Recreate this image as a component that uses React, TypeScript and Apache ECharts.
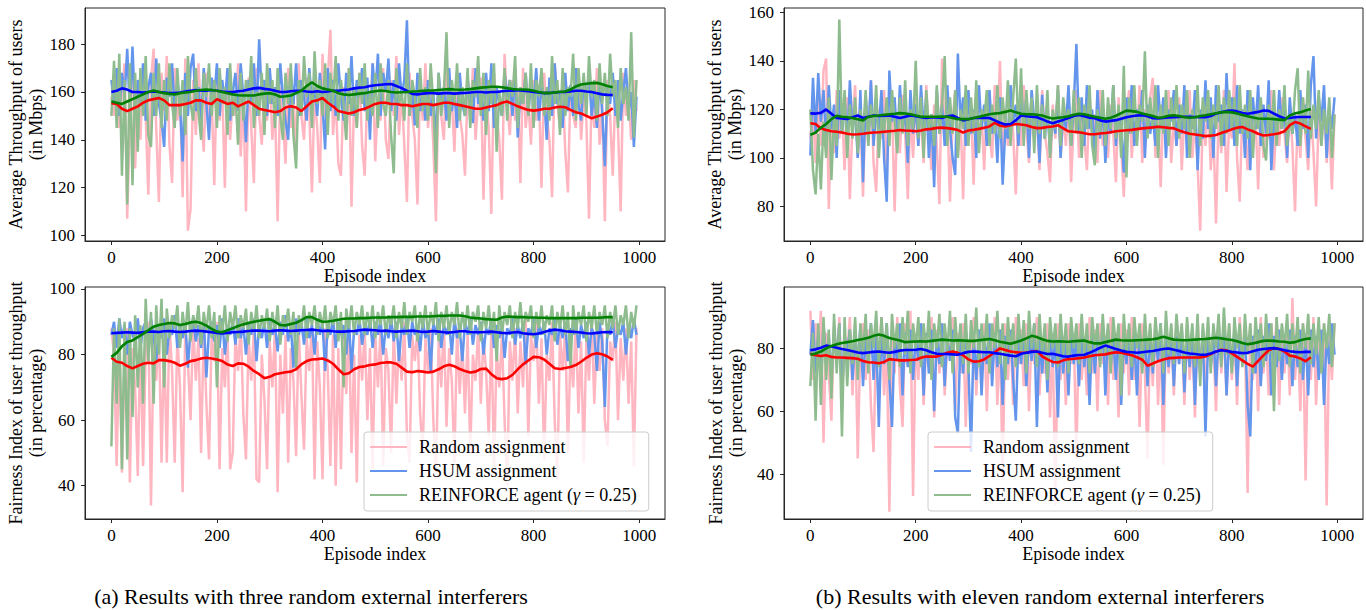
import React, { useEffect, useRef } from 'react';
import * as echarts from 'echarts';

// ---------------- data ----------------
const RAW_STEP = 5; // raw curves sampled every 5 episodes (0..995)
const MA_STEP = 10; // moving averages every 10 episodes (0..950)

const xTicks = [0, 200, 400, 600, 800, 1000];
const yTicksATop = [100, 120, 140, 160, 180];
const yTicksABottom = [40, 60, 80, 100];
const yTicksBTop = [80, 100, 120, 140, 160];
const yTicksBBottom = [40, 60, 80];

const seriesNames = ['Random assignment', 'HSUM assignment', 'REINFORCE agent (γ = 0.25)'];
const maNames = ['Random (moving average)', 'HSUM (moving average)', 'REINFORCE (moving average)'];
const captions = [
  '(a) Results with three random external interferers',
  '(b) Results with eleven random external interferers',
];
const throughputName = 'Average Throughput of users\n(in Mbps)';
const fairnessName = 'Fairness Index of user throughput\n(in percentage)';
const xName = 'Episode index';

// (a) top: throughput, three interferers
const aTopRandom = [
  158,150,166,145,160,172,107,148,176,128,162,140,170,150,117,165,178,145,114,168,
  152,175,138,122,170,148,160,116,174,102,111,165,142,172,150,135,168,145,158,121,
  170,148,162,120,168,140,158,150,172,133,160,110,166,145,122,170,150,138,164,148,
  168,140,155,106,162,148,130,170,145,158,136,172,150,140,166,152,118,160,145,122,
  176,150,165,186,142,158,130,125,162,140,170,112,158,145,168,138,125,160,150,172,
  131,158,148,170,140,132,165,150,175,142,160,138,114,168,150,140,113,165,148,172,
  145,160,138,106,165,150,140,172,148,158,135,168,150,142,125,162,148,170,140,156,
  166,115,158,145,109,168,150,140,115,176,155,142,165,148,160,122,170,145,156,138,
  165,148,160,120,168,150,140,116,172,155,145,165,135,118,162,150,145,170,140,158,
  148,107,160,145,170,138,155,106,165,150,125,160,145,110,168,150,158,140,165,152,
];
const aTopHsum = [
  165,155,170,150,168,158,178,152,179,150,165,155,172,148,162,168,150,174,155,148,
  137,166,158,172,150,165,155,131,168,150,170,176,152,162,148,170,155,140,166,158,
  172,150,165,155,170,148,160,168,152,172,158,139,165,155,172,150,182,158,165,150,
  170,155,162,150,172,158,148,140,168,155,172,150,165,158,148,170,155,162,150,168,
  155,136,170,152,165,150,172,158,148,168,155,175,150,165,158,170,152,166,140,172,
  158,176,150,168,160,174,152,165,148,172,158,165,190,150,162,146,168,152,160,148,
  165,150,160,138,168,155,162,148,170,152,160,145,168,155,150,165,158,147,170,155,
  160,148,168,152,172,145,162,155,150,168,158,165,150,170,141,160,155,168,150,165,
  155,170,148,162,158,140,166,150,172,155,160,145,168,152,163,150,170,155,148,165,
  158,168,150,160,145,165,152,129,162,155,168,150,165,148,160,170,152,160,137,158,
];
const aTopReinforce = [
  150,173,145,176,125,165,113,172,121,168,135,170,150,175,142,137,168,150,172,145,
  165,148,172,155,145,170,150,165,142,175,155,148,170,152,140,168,158,172,150,165,
  145,170,155,162,142,172,150,160,138,168,148,165,155,175,145,160,150,168,142,172,
  155,165,145,170,150,140,168,155,172,142,128,165,150,175,158,168,145,177,155,165,
  150,172,142,168,155,175,148,165,155,140,170,150,162,145,168,155,172,148,160,150,
  168,145,172,155,150,165,142,126,170,155,160,148,172,150,165,158,145,170,152,162,
  148,172,155,126,168,150,160,185,145,165,155,172,148,162,150,170,145,165,158,175,
  150,168,142,165,155,172,135,160,150,170,148,165,158,175,145,162,155,168,150,172,
  145,165,158,170,150,162,148,175,155,165,142,170,150,162,158,176,148,170,155,168,
  150,175,158,165,148,172,155,168,150,176,158,165,145,170,155,162,148,185,141,165,
];
const aTopRandomMA = [
  155.3,155,153,152,153,154,155.5,156.5,157,157.5,
  156.5,154.5,154.5,154.5,155,155.5,156.5,156.5,155.5,155,
  157,156,155,155.5,154,155,156,154.5,153,152.5,
  152,151.5,152,153.5,154,153.5,152,154,156,156.5,
  157.5,155.5,154,152,151.5,151,151.5,152.5,153,154,
  155,155.5,155.5,155,155,154.5,154.5,154,154.5,155,
  155,154.5,155,155.5,155.5,155,154.5,154,153.5,153,
  153,153.5,154,154.5,155.5,156,155,154,153.2,152.5,
  152.2,152.5,153,153,153.5,153.8,153.6,152.5,151.5,151,
  150,149,149.7,150.5,151.5,153.2,
];
const aTopHsumMA = [
  160,160.5,161.5,161,160,160,159.8,160,160.2,160,
  159.8,159.5,159.5,159.8,160.2,160.5,160.8,160.5,160.5,160.8,
  160.5,160.2,160,160,160.3,160.5,161,161.5,161.7,161.3,
  161,160.5,160,160,160.3,160.5,160.5,160.2,160,160.3,
  160,160.2,160.5,160.5,160.8,161,161.5,161.8,162,162.5,
  162.8,163,163.2,163.3,162.5,161.6,160.5,159.2,159,159.3,
  159.5,159.5,159.3,159.5,159.5,159.3,159.5,159.6,159.8,160,
  160,159.8,160,160,160.3,160.5,160.5,160.7,160.5,160.3,
  160,159.8,159.5,159.6,159.8,160,160,160.2,160.5,160.5,
  160.2,160,159.5,159,158.8,158.7,
];
const aTopReinforceMA = [
  156,155.5,155,156,157,158,159,160,160.6,160,
  159.5,159.2,159,159.5,159.8,160,160.5,160.8,161,160.8,
  160.5,160,159.5,159,158.6,158.5,158.5,158.5,159,159.3,
  159.5,159,158,158.2,158.5,159.5,160.5,162.5,164,162.5,
  161.5,161,160.5,159.5,159,158.7,159,159.3,159.5,160,
  160.3,160.6,160.4,160,159.8,159.9,160,160.2,160.3,160.5,
  160.6,160.6,160.8,161,161.2,161,160.9,161,161.2,161.5,
  161.8,162,162.2,162.2,162,161.6,161.2,161,161,160.9,
  160.5,160,159.6,159.5,159.8,160.1,160.2,161,162.3,163.1,
  163.4,163.7,163.8,163.2,162.5,162,
];

// (a) bottom: fairness, three interferers
const aBottomRandom = [
  88,80,46,85,44,78,88,41,82,70,43,86,46,80,90,34,84,72,88,47,
  85,47,90,75,47,86,70,38,88,78,60,90,72,85,50,88,65,48,86,78,
  90,45,82,70,88,45,50,86,75,90,62,48,85,72,88,42,41,80,66,45,
  84,70,88,38,80,62,86,47,82,72,49,88,68,51,85,75,90,42,84,70,
  42,88,75,46,86,40,82,45,88,68,90,50,80,41,86,72,88,60,82,45,
  86,70,88,46,82,75,50,88,65,84,72,90,55,47,86,78,88,62,50,85,
  75,88,60,42,84,70,90,58,82,72,47,88,68,84,62,86,50,80,72,88,
  65,85,75,55,88,44,82,70,86,60,40,84,72,88,62,84,70,92,55,86,
  78,90,65,85,48,80,72,90,60,42,86,75,88,50,82,70,90,62,84,47,
  85,72,92,65,86,75,88,60,52,84,78,90,60,85,72,88,65,84,46,88,
];
const aBottomHsum = [
  86,90,82,91,85,89,80,90,86,84,91,82,88,90,84,91,86,78,89,85,
  91,80,88,86,92,82,89,85,90,76,88,91,84,89,82,91,73,88,90,84,
  89,82,91,80,88,86,90,83,91,85,89,80,90,86,91,78,89,85,90,82,
  91,86,89,81,90,86,92,84,89,76,91,86,90,83,91,85,89,80,91,86,
  90,75,89,86,91,82,90,86,89,80,91,75,88,86,91,83,89,86,91,82,
  90,86,91,80,89,85,91,84,90,78,89,86,91,82,90,86,89,81,91,85,
  88,75,90,86,91,82,89,86,90,80,91,85,88,78,90,86,91,83,89,86,
  90,80,88,86,91,82,89,85,90,79,88,86,91,83,89,85,90,77,88,86,
  91,82,89,86,90,80,88,86,91,83,89,85,90,78,88,86,91,82,89,85,
  90,80,88,86,75,90,84,64,89,86,91,82,88,86,90,80,89,85,91,86,
];
const aBottomReinforce = [
  52,88,65,91,45,90,48,88,61,92,70,89,65,97,78,93,65,95,80,97,
  70,94,85,92,88,95,82,93,86,96,84,92,88,95,83,93,87,95,85,93,
  70,92,86,95,84,93,88,95,85,92,88,94,83,93,87,95,85,92,88,94,
  84,93,87,95,83,92,88,94,86,93,76,92,88,95,85,93,89,95,86,93,
  88,95,85,93,89,95,84,93,70,94,88,95,86,93,89,95,86,93,88,95,
  85,93,89,95,86,92,89,95,85,93,88,96,86,93,90,95,84,93,88,95,
  86,93,89,96,84,93,88,95,86,93,89,96,85,93,88,95,86,93,90,95,
  84,93,88,95,86,93,78,95,86,93,89,95,85,93,88,96,86,93,90,95,
  85,93,88,95,86,92,89,95,84,93,88,95,86,93,76,95,86,93,89,95,
  84,93,88,95,86,93,89,95,85,93,88,95,86,92,89,95,85,93,88,95,
];
const aBottomRandomMA = [
  79,77.8,77.5,76.5,75.8,76.5,77.2,77.5,77.3,78.3,
  78.3,78,77.5,76.6,77.2,78,78.3,78.8,79,78.8,
  78.5,78,77,76.5,77.3,77.2,76.3,75,74,72.8,
  73.2,74,74.3,74.6,74.8,75.5,77,78,78.5,78.6,
  78.8,78.2,77.2,75.5,74,74.3,75.5,76.2,76.4,76.8,
  77,77.4,77.6,77.6,77.2,76,74.8,74.6,75,74.8,
  74.5,74.8,75.5,76.4,76.9,76.4,75.6,75,74.5,74.8,
  75.6,75.7,74,72.8,72.5,72.8,73.8,75.5,77,78.2,
  79.3,79.2,78.5,77.2,75.8,75.6,75.9,76.2,76.8,77.8,
  79,80,80.4,80.1,79.4,78.4,
];
const aBottomHsumMA = [
  86.5,86.6,86.7,86.8,86.7,86.6,86.8,87,87,86.9,
  87.1,87.2,87,86.9,87,87.2,87.3,87.2,87,86.8,
  86.6,86.4,86.6,86.8,86.9,87,87.2,87.3,87.3,87.2,
  87.1,87.3,87.4,87.3,87.2,87.3,87.4,87.5,87.6,87.4,
  87.2,87.3,87.1,87,87,87.1,87.2,87.4,87.6,87.5,
  87.4,87.2,87.3,87.1,87,87.1,87.2,87.3,87.1,86.9,
  87,87.2,87,86.8,86.7,86.9,87.1,87.1,86.9,86.8,
  86.8,86.9,87,86.8,86.6,86.5,86.7,86.9,86.5,86.3,
  86.2,86.4,86.9,87.3,87.6,87.4,87.1,87,86.9,86.7,
  86.5,86.4,86.6,86.8,86.9,86.8,
];
const aBottomReinforceMA = [
  79.3,80.5,82.5,83.8,84.3,85.3,86.3,87.4,88.5,89,
  89.3,89.6,89.5,89,89.3,89.8,90,89.6,88.8,87.8,
  87,86.8,87.4,88,88.7,89.2,89.6,90,90.3,90.6,
  90.8,90,89,88.9,89.3,89.7,90.5,91.4,91.4,90.6,
  90,90.1,90.3,90.6,90.9,91,91,91.1,91.1,91.2,
  91.3,91.3,91.3,91.4,91.4,91.5,91.5,91.5,91.6,91.6,
  91.6,91.7,91.8,91.8,91.9,91.9,91.9,91.7,91.3,91.1,
  91,90.8,90.7,90.6,91.3,91.6,91.5,91.4,91.4,91.3,
  91.3,91.2,91.2,91.1,91.1,91.1,91.1,91.1,91.1,91.2,
  91.2,91.2,91.2,91.3,91.4,91.4,
];

// (b) top: throughput, eleven interferers
const bTopRandom = [
  108,120,98,125,105,136,141,79,118,102,128,108,120,95,125,83,115,130,100,118,
  84,125,105,132,98,86,120,108,128,95,115,122,78,118,102,126,110,83,120,100,
  125,105,118,98,130,110,95,122,105,81,141,108,120,82,115,128,100,118,83,125,
  108,120,89,128,105,118,95,125,110,100,130,112,140,98,120,105,128,110,85,122,
  105,130,112,98,125,108,118,95,128,110,102,90,122,108,130,100,118,105,125,90,
  115,128,100,120,108,95,125,110,118,98,128,105,115,100,122,110,90,125,105,84,
  118,128,100,115,108,130,98,120,110,125,133,100,118,88,122,108,128,98,115,105,
  125,95,118,108,128,100,115,98,70,120,105,125,95,112,73,118,102,128,86,115,
  108,139,100,82,120,110,95,125,105,118,87,122,100,115,108,128,95,118,105,125,
  110,98,122,105,78,118,100,125,108,95,120,102,80,118,105,125,98,112,87,118,
];
const bTopHsum = [
  101,133,110,135,115,128,105,130,112,122,100,128,110,125,105,132,112,120,100,128,
  90,125,110,132,105,120,112,128,100,82,136,115,125,105,130,112,120,98,128,110,
  122,105,130,112,125,100,118,88,128,110,122,105,130,112,100,93,143,115,125,105,
  128,110,120,100,130,112,122,105,128,110,118,98,125,89,112,108,130,115,122,105,
  130,112,125,100,128,115,120,98,126,108,122,102,118,110,128,100,120,112,130,105,
  122,147,110,125,105,130,112,120,100,128,108,122,98,118,110,130,105,120,112,94,
  125,110,130,105,120,112,128,100,122,110,118,105,130,112,125,100,120,115,128,105,
  122,110,130,100,118,112,128,95,120,108,132,112,125,100,130,115,122,105,135,112,
  125,105,130,110,120,100,128,95,125,112,130,105,122,110,132,95,118,108,128,112,
  120,100,125,110,118,105,128,112,122,100,130,142,108,125,115,130,100,120,112,125,
];
const bTopReinforce = [
  120,95,85,110,87,115,100,125,91,118,105,157,110,128,100,122,108,125,102,120,
  110,128,105,122,112,130,100,118,110,125,105,128,115,102,125,110,132,105,120,112,
  140,108,125,100,128,112,118,105,130,110,122,142,105,125,110,128,100,120,112,130,
  105,125,110,132,102,120,115,128,105,122,110,130,108,125,112,132,105,125,141,110,
  137,105,128,112,125,102,130,110,122,108,128,100,120,112,130,105,125,115,120,105,
  128,110,125,100,122,112,130,105,97,120,110,128,105,125,112,130,108,122,100,138,
  92,125,110,130,105,122,115,144,108,125,112,130,100,122,110,128,105,125,112,130,
  108,122,112,128,100,120,110,130,105,125,115,128,108,122,112,130,105,125,110,128,
  112,125,105,130,110,122,108,128,100,120,112,125,105,99,122,110,128,105,120,112,
  130,105,118,110,128,137,105,125,110,136,108,122,112,128,105,120,110,125,100,118,
];
const bTopRandomMA = [
  114.3,114,112.2,111.5,111,110.8,110.5,110,109.7,109.8,
  110,110.3,110.5,110.6,110.8,111,111.2,111.5,111.3,111.2,
  111,111.3,111.8,112,112.4,112.5,112.3,112,111.5,110.5,
  111.3,111.6,112,112.5,113,114.5,113.3,113,113.5,114,
  113.8,113.5,112.8,112.3,112.4,112.8,113,113.5,112.2,111,
  110.8,110.6,110.2,109.8,109.8,110.1,110.3,110.6,111,111.2,
  111.4,111.6,111.9,112.2,112.4,112.6,112.9,112.7,112.4,112.2,
  111.3,110.6,110,109.7,109.4,109,109.2,109.5,110.3,111,
  111.8,112.5,112.8,111.8,111,110,109.3,109.5,109.8,110.2,
  111,113.5,114.8,114.2,113,112,
];
const bTopHsumMA = [
  118.4,118.3,118.6,120,118.2,116.5,116.3,116.1,116.8,117.5,
  116.5,117,117.5,117.3,117.4,117.5,117,116.5,117,117.5,
  117.2,116.8,116.5,116.8,116.7,116.5,117.2,117.5,116.5,115.5,
  116,116.5,116.5,116.6,116.5,115.5,114.5,113.8,114,115.5,
  117.5,117.2,117,116.8,116,115,114.3,115,115.7,116.5,
  117.3,117.7,117.2,116.6,116.4,115.5,115,115.3,115.6,116.2,
  116.8,117.2,117.5,117.6,117.2,116.4,116.3,116.5,116.7,116.8,
  116.9,117,117,116.9,116.8,116.8,117.3,118.3,118.8,119.4,
  119.6,119.2,118.5,118.2,118.6,119,119.6,119.4,118.3,117.2,
  116.3,116.5,116.8,116.9,116.9,116.9,
];
const bTopReinforceMA = [
  109.5,110.5,112.5,114,116,117.4,117,116.8,116.5,116,
  115.5,117,117.3,117.5,117.8,118,118.2,118.5,118.3,118,
  117.5,117,117,117,117,117.1,117,116.5,116,116,
  116,116.5,117,117.5,118,118.3,118.5,119,119.6,118.8,
  118.2,118,118,117.8,117.5,116.8,116.3,116.6,116.8,117.2,
  117.8,118.2,118,117.5,117,116.6,116.2,116.6,117.4,118.5,
  119.5,119.3,119,118.3,117.8,117.3,116.6,116.8,117.4,117.6,
  117.3,116.8,116.6,116.8,117.3,117.6,118,118.4,118.8,119,
  118.8,118.3,117.7,117.2,116.7,116.3,116.2,116.2,116,115.8,
  115.6,117.5,118.4,118.8,119.6,120.2,
];

// (b) bottom: fairness, eleven interferers
const bBottomRandom = [
  92,70,88,78,92,50,85,72,57,88,75,90,62,85,78,90,65,88,45,82,
  88,70,86,62,47,84,75,90,65,82,28,86,72,90,68,55,88,75,92,33,
  85,70,88,62,82,75,90,58,86,72,88,65,82,78,90,60,85,72,88,55,
  82,75,90,65,86,70,88,60,84,75,90,62,86,38,88,70,85,62,90,75,
  86,68,88,60,85,75,90,65,82,72,88,58,85,30,88,70,84,62,88,75,
  85,45,88,70,82,65,90,72,86,60,88,75,84,62,90,70,85,58,88,72,
  86,65,90,70,84,55,88,72,45,86,68,90,62,85,43,88,72,84,65,90,
  75,86,62,88,70,84,58,90,72,85,65,88,75,82,60,90,72,86,65,88,
  70,85,62,90,75,84,34,88,70,85,60,90,72,84,65,88,75,90,62,86,
  72,88,65,96,70,85,60,88,38,84,70,90,62,86,75,88,30,85,70,88,
];
const bBottomHsum = [
  78,89,72,85,68,88,75,84,70,86,76,88,65,84,78,86,70,84,75,87,
  68,85,76,88,70,84,55,86,75,88,70,55,84,76,88,65,85,74,86,70,
  84,76,88,65,85,72,86,60,84,75,88,68,84,76,86,58,53,84,72,86,
  75,47,84,70,86,65,84,75,88,68,85,74,86,62,84,75,86,70,57,84,
  75,86,68,84,76,88,55,84,72,86,66,85,74,84,58,86,72,84,65,86,
  75,84,68,86,74,84,62,86,72,84,76,88,65,86,74,84,70,86,62,84,
  75,86,70,84,65,86,74,84,68,86,72,84,76,88,62,84,74,86,68,84,
  75,86,66,84,74,86,62,84,72,86,52,84,74,86,68,84,76,88,65,84,
  74,86,68,84,75,86,62,52,84,72,86,68,84,76,88,65,84,74,86,70,
  84,75,86,68,84,74,86,70,84,65,86,74,84,70,86,62,84,75,88,78,
];
const bBottomReinforce = [
  68,85,57,88,62,90,70,86,64,91,72,88,52,90,68,86,75,90,70,88,
  78,91,72,88,80,92,74,90,78,88,70,91,80,88,74,90,78,92,72,88,
  80,90,74,88,78,92,70,88,80,91,74,88,79,92,72,90,78,88,75,91,
  72,89,80,93,74,88,78,91,72,88,80,92,75,88,70,90,78,88,74,91,
  78,89,72,92,80,88,74,91,78,88,70,90,80,88,74,91,78,88,72,90,
  80,88,75,91,78,88,72,90,80,88,74,91,78,88,72,90,80,88,65,91,
  78,88,74,90,80,88,72,91,78,88,74,90,80,88,72,92,78,88,75,91,
  80,88,72,90,78,88,74,91,68,88,78,90,72,88,80,91,74,93,78,88,
  72,90,80,88,74,91,78,88,72,90,80,88,74,91,78,88,60,90,76,88,
  80,91,74,88,78,90,72,88,80,91,75,88,78,90,72,88,80,91,74,88,
];
const bBottomRandomMA = [
  78.3,77.8,77.6,77.8,77.3,77.1,77.1,77,76.9,76.7,
  76,75.6,75.5,75.3,75.7,76.6,76.4,76.2,76.2,76.3,
  76.4,77,77.4,77.4,77.4,78,78.6,79,78.6,77.8,
  76.5,75.8,75.9,76.5,77.6,78.8,80,79.5,79,78.8,
  78.6,78.6,79,79.2,77.5,76.5,75.7,75.5,76.2,76.6,
  76.7,76.9,77.1,77.5,77.8,78,78.1,78.5,78.8,78.6,
  78.2,77.8,77.2,76.4,74.5,75.2,75.9,76.5,76.9,77,
  77.1,77.1,77.1,77.1,77.1,77.4,78.2,79,79.6,79.4,
  78.4,77.3,76.2,75.1,74.2,76,77.8,79.4,80.1,79.8,
  79,77.7,77.4,76.8,75.9,77.2,
];
const bBottomHsumMA = [
  79.4,79.7,80.2,80.9,80.6,80.2,79.8,79.5,79.1,78.7,
  78.5,78.7,78.9,79,78.8,78.6,78.9,79.3,79.5,79.5,
  79.6,79.8,79.4,78.8,78.3,78.2,78.2,78.1,78,78.5,
  78.9,79,78.9,78.8,78.8,78.5,78.3,78,77.7,77.5,
  78.3,78.6,78.9,79,78.6,78.2,78.3,77.9,77.5,77.4,
  77.7,77.9,78,78.6,79.4,80.2,80.9,80.4,79.8,79.3,
  78.9,78.8,78.6,78.8,79,79.2,79.5,79.8,80,79.6,
  79.2,78.7,78.4,78.2,78,78,78.4,79,79.4,79.2,
  78.9,78.7,78.5,78.6,79.1,79.6,79.8,80,80.1,79.8,
  79.4,79.1,78.9,78.8,78.9,78.9,
];
const bBottomReinforceMA = [
  78,78.4,79,80,80.8,81.3,81.7,82,82.3,82.7,
  83,83.4,84,84.4,84,83.3,82.9,82.5,82,82.1,
  82.2,82.3,82.2,82.4,82.6,82.8,82.7,82.5,82.6,82.5,
  82.4,82.4,82.6,82.8,83,82.6,82.1,81.8,81.5,82,
  82.5,83.2,84,83.6,82.9,82.4,82.2,82.3,82.2,82.1,
  82.3,82.4,82.5,82,81.6,81.6,82,82.4,82.8,82.6,
  82.5,82.5,82.6,82.7,82.8,82.9,83.2,83.7,83.2,82.8,
  82.7,82.6,82.7,82.8,82.9,83,83.2,83.4,83.2,82.9,
  82.7,82.3,81.7,81.3,81.6,82,82.4,82.5,82.4,82.2,
  82.1,81.8,82,82.6,83,83.2,
];

// ---------------- styling / layout ----------------
const FONT = 'Liberation Serif';
const rawColors = ['#FFB6C1', '#6495ED', '#8FBC8F'];
const maColors = ['#FF0000', '#0000FF', '#008000'];
const frameColor = '#262626';

const panels = [
  {
    rect: { left: 85, top: 8, width: 580, height: 233 },
    yMin: 97.7, yMax: 195.1, yTicks: yTicksATop, yName: throughputName,
    raw: [aTopRandom, aTopHsum, aTopReinforce],
    ma: [aTopRandomMA, aTopHsumMA, aTopReinforceMA],
  },
  {
    rect: { left: 85, top: 287, width: 580, height: 232 },
    yMin: 29.85, yMax: 100.6, yTicks: yTicksABottom, yName: fairnessName,
    raw: [aBottomRandom, aBottomHsum, aBottomReinforce],
    ma: [aBottomRandomMA, aBottomHsumMA, aBottomReinforceMA],
  },
  {
    rect: { left: 784, top: 8, width: 579, height: 233 },
    yMin: 65.8, yMax: 161.8, yTicks: yTicksBTop, yName: throughputName,
    raw: [bTopRandom, bTopHsum, bTopReinforce],
    ma: [bTopRandomMA, bTopHsumMA, bTopReinforceMA],
  },
  {
    rect: { left: 784, top: 287, width: 579, height: 232 },
    yMin: 25.7, yMax: 99.55, yTicks: yTicksBBottom, yName: fairnessName,
    raw: [bBottomRandom, bBottomHsum, bBottomReinforce],
    ma: [bBottomRandomMA, bBottomHsumMA, bBottomReinforceMA],
  },
];

function buildOption() {
  const grid = panels.map((p) => ({
    ...p.rect,
    show: true,
    borderColor: frameColor,
    borderWidth: 1,
    backgroundColor: 'transparent',
    containLabel: false,
  }));

  const xAxis = panels.map((p, i) => ({
    type: 'value',
    gridIndex: i,
    min: -50,
    max: 1049,
    name: xName,
    nameLocation: 'middle',
    nameGap: 22,
    nameTextStyle: { fontFamily: FONT, fontSize: 18, color: '#000' },
    axisLine: { show: true, onZero: false, lineStyle: { color: frameColor, width: 1 } },
    axisTick: { show: true, length: 4, customValues: xTicks, lineStyle: { color: frameColor } },
    axisLabel: {
      customValues: xTicks,
      margin: 8,
      fontFamily: FONT,
      fontSize: 17,
      color: '#000',
      formatter: (v: number) => String(v),
    },
    splitLine: { show: false },
  }));

  const yAxis = panels.map((p, i) => ({
    type: 'value',
    gridIndex: i,
    min: p.yMin,
    max: p.yMax,
    name: p.yName,
    nameLocation: 'middle',
    nameRotate: 90,
    nameGap: 38,
    nameTextStyle: { fontFamily: FONT, fontSize: 18, lineHeight: 20, color: '#000', align: 'center' },
    axisLine: { show: true, onZero: false, lineStyle: { color: frameColor, width: 1 } },
    axisTick: { show: true, length: 4, customValues: p.yTicks, lineStyle: { color: frameColor } },
    axisLabel: {
      customValues: p.yTicks,
      margin: 10,
      fontFamily: FONT,
      fontSize: 17,
      color: '#000',
      formatter: (v: number) => String(v),
    },
    splitLine: { show: false },
  }));

  const series: any[] = [];
  panels.forEach((p, i) => {
    p.raw.forEach((vals, k) => {
      series.push({
        type: 'line',
        name: seriesNames[k],
        xAxisIndex: i,
        yAxisIndex: i,
        data: vals.map((v, j) => [j * RAW_STEP, v]),
        showSymbol: false,
        symbol: 'none',
        silent: true,
        lineStyle: { color: rawColors[k], width: 2.5 },
        itemStyle: { color: rawColors[k] },
        emphasis: { disabled: true },
      });
    });
  });
  panels.forEach((p, i) => {
    p.ma.forEach((vals, k) => {
      series.push({
        type: 'line',
        name: maNames[k],
        xAxisIndex: i,
        yAxisIndex: i,
        data: vals.map((v, j) => [j * MA_STEP, v]),
        showSymbol: false,
        symbol: 'none',
        silent: true,
        lineStyle: { color: maColors[k], width: 2.6 },
        itemStyle: { color: maColors[k] },
        emphasis: { disabled: true },
      });
    });
  });

  const legendBase = {
    orient: 'vertical',
    data: seriesNames,
    icon: 'rect',
    itemWidth: 37,
    itemHeight: 2,
    itemGap: 6,
    padding: [6, 12, 7, 6],
    backgroundColor: 'rgba(255,255,255,0.8)',
    borderColor: '#cccccc',
    borderWidth: 1,
    borderRadius: 3,
    selectedMode: false,
    formatter: (name: string) =>
      name === seriesNames[2] ? '{n|REINFORCE agent (}{g|γ}{n| = 0.25)}' : '{n|' + name + '}',
    textStyle: {
      fontFamily: FONT,
      fontSize: 18,
      color: '#000',
      padding: [0, 0, 0, 7],
      rich: {
        n: { fontFamily: FONT, fontSize: 18, color: '#000', lineHeight: 18 },
        g: { fontFamily: FONT, fontSize: 18, color: '#000', fontStyle: 'italic', lineHeight: 18 },
      },
    },
  };

  const legend = [
    { ...legendBase, left: 364, top: 432 },
    { ...legendBase, left: 928, top: 432 },
  ];

  const graphic = [
    {
      type: 'text',
      x: 311,
      y: 596,
      silent: true,
      style: { text: captions[0], fontFamily: FONT, fontSize: 22, fill: '#000', align: 'center', verticalAlign: 'middle' },
    },
    {
      type: 'text',
      x: 1040,
      y: 596,
      silent: true,
      style: { text: captions[1], fontFamily: FONT, fontSize: 22, fill: '#000', align: 'center', verticalAlign: 'middle' },
    },
  ];

  return {
    animation: false,
    backgroundColor: '#ffffff',
    textStyle: { fontFamily: FONT },
    grid,
    xAxis,
    yAxis,
    legend,
    series,
    graphic,
  };
}

export default function App() {
  const ref = useRef<HTMLDivElement>(null);
  useEffect(() => {
    if (!ref.current) return;
    const chart = echarts.init(ref.current, undefined, { renderer: 'svg' });
    chart.setOption(buildOption() as any);
    return () => chart.dispose();
  }, []);
  return (
    <div
      ref={ref}
      style={{ position: 'fixed', left: 0, top: 0, width: 1366, height: 610, background: '#fff' }}
    />
  );
}
